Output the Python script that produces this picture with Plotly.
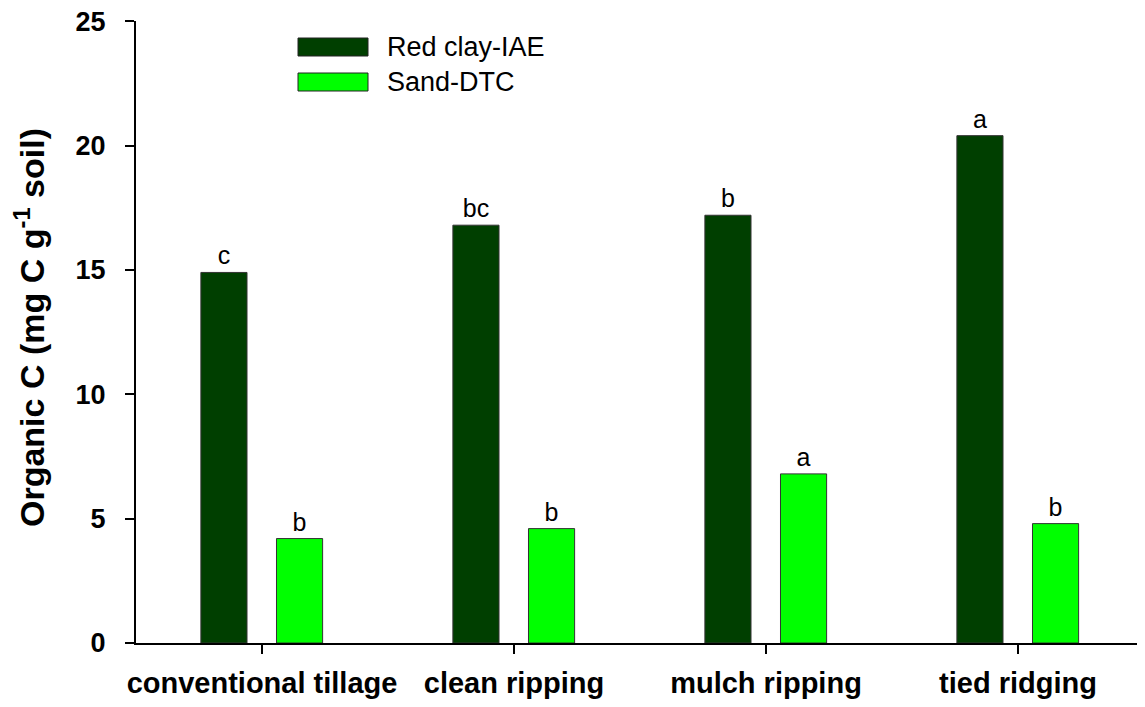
import plotly.graph_objects as go

categories = ["conventional tillage", "clean ripping", "mulch ripping", "tied ridging"]
series_names = ["Red clay-IAE", "Sand-DTC"]
red_clay = [14.9, 16.8, 17.2, 20.4]
sand = [4.2, 4.6, 6.8, 4.8]
red_clay_letters = ["c", "bc", "b", "a"]
sand_letters = ["b", "b", "a", "b"]
y_ticks = [0, 5, 10, 15, 20, 25]
y_title = "Organic C (mg C g<sup>-1</sup> soil)"

colors = ["#003f00", "#00ff00"]
FONT = "Liberation Sans, Arial, sans-serif"

# page body adds an 8px margin, so the figure is drawn a bit smaller
OFF = 8
W, H = 1145 - OFF, 707 - OFF
L, R, T, B = 136 - OFF, 1, 13, 64
pw, ph = W - L - R, H - T - B


def px_x(x):
    return (x - OFF - L) / pw


def px_y(y):
    return (H - B - (y - OFF)) / ph


fig = go.Figure()

for name, vals, letters, col, off in [
    (series_names[0], red_clay, red_clay_letters, colors[0], -0.2425),
    (series_names[1], sand, sand_letters, colors[1], 0.0575),
]:
    fig.add_trace(go.Bar(
        x=categories,
        y=vals,
        name=name,
        width=0.183,
        offset=off,
        marker=dict(color=col, line=dict(color="#333333", width=1)),
        text=letters,
        textposition="outside",
        textfont=dict(family=FONT, size=25, color="black"),
        cliponaxis=False,
        showlegend=False,
    ))

# legend drawn as wide swatches like the original
for i, (name, col) in enumerate(zip(series_names, colors)):
    top = 38 + i * 35
    fig.add_shape(type="rect", xref="paper", yref="paper",
                  x0=px_x(298), x1=px_x(368), y0=px_y(top + 18), y1=px_y(top),
                  fillcolor=col, line=dict(color="#222222", width=1))
    fig.add_annotation(xref="paper", yref="paper", x=px_x(385), y=px_y(top + 9),
                       text=name, showarrow=False, xanchor="left", yanchor="middle",
                       font=dict(family=FONT, size=27, color="black"))

# y axis title as a rotated annotation so it sits where the original has it
fig.add_annotation(xref="paper", yref="paper", x=px_x(30), y=px_y(328),
                   text=y_title, showarrow=False, textangle=-90,
                   xanchor="center", yanchor="middle",
                   font=dict(family=FONT, size=34, color="black", weight="bold"))

fig.update_layout(
    width=W, height=H,
    margin=dict(l=L, r=R, t=T, b=B),
    plot_bgcolor="white", paper_bgcolor="white",
    barmode="overlay",
    font=dict(family=FONT, color="black"),
    xaxis=dict(
        range=[-0.5, 3.5], automargin=False,
        showline=True, linecolor="black", linewidth=2,
        ticks="outside", ticklen=9, tickwidth=1.5, tickcolor="black",
        tickfont=dict(size=29, family=FONT, weight="bold"),
        ticklabelstandoff=4,
        showgrid=False, zeroline=False,
    ),
    yaxis=dict(
        range=[0, 25.01], tickvals=y_ticks, automargin=False,
        showline=True, linecolor="black", linewidth=2,
        ticks="outside", ticklen=9, tickwidth=1.5, tickcolor="black",
        tickfont=dict(size=27, family=FONT, weight="bold"),
        ticklabelstandoff=14, ticklabeloverflow="allow",
        showgrid=False, zeroline=False,
    ),
)

fig.write_html("out.html")
